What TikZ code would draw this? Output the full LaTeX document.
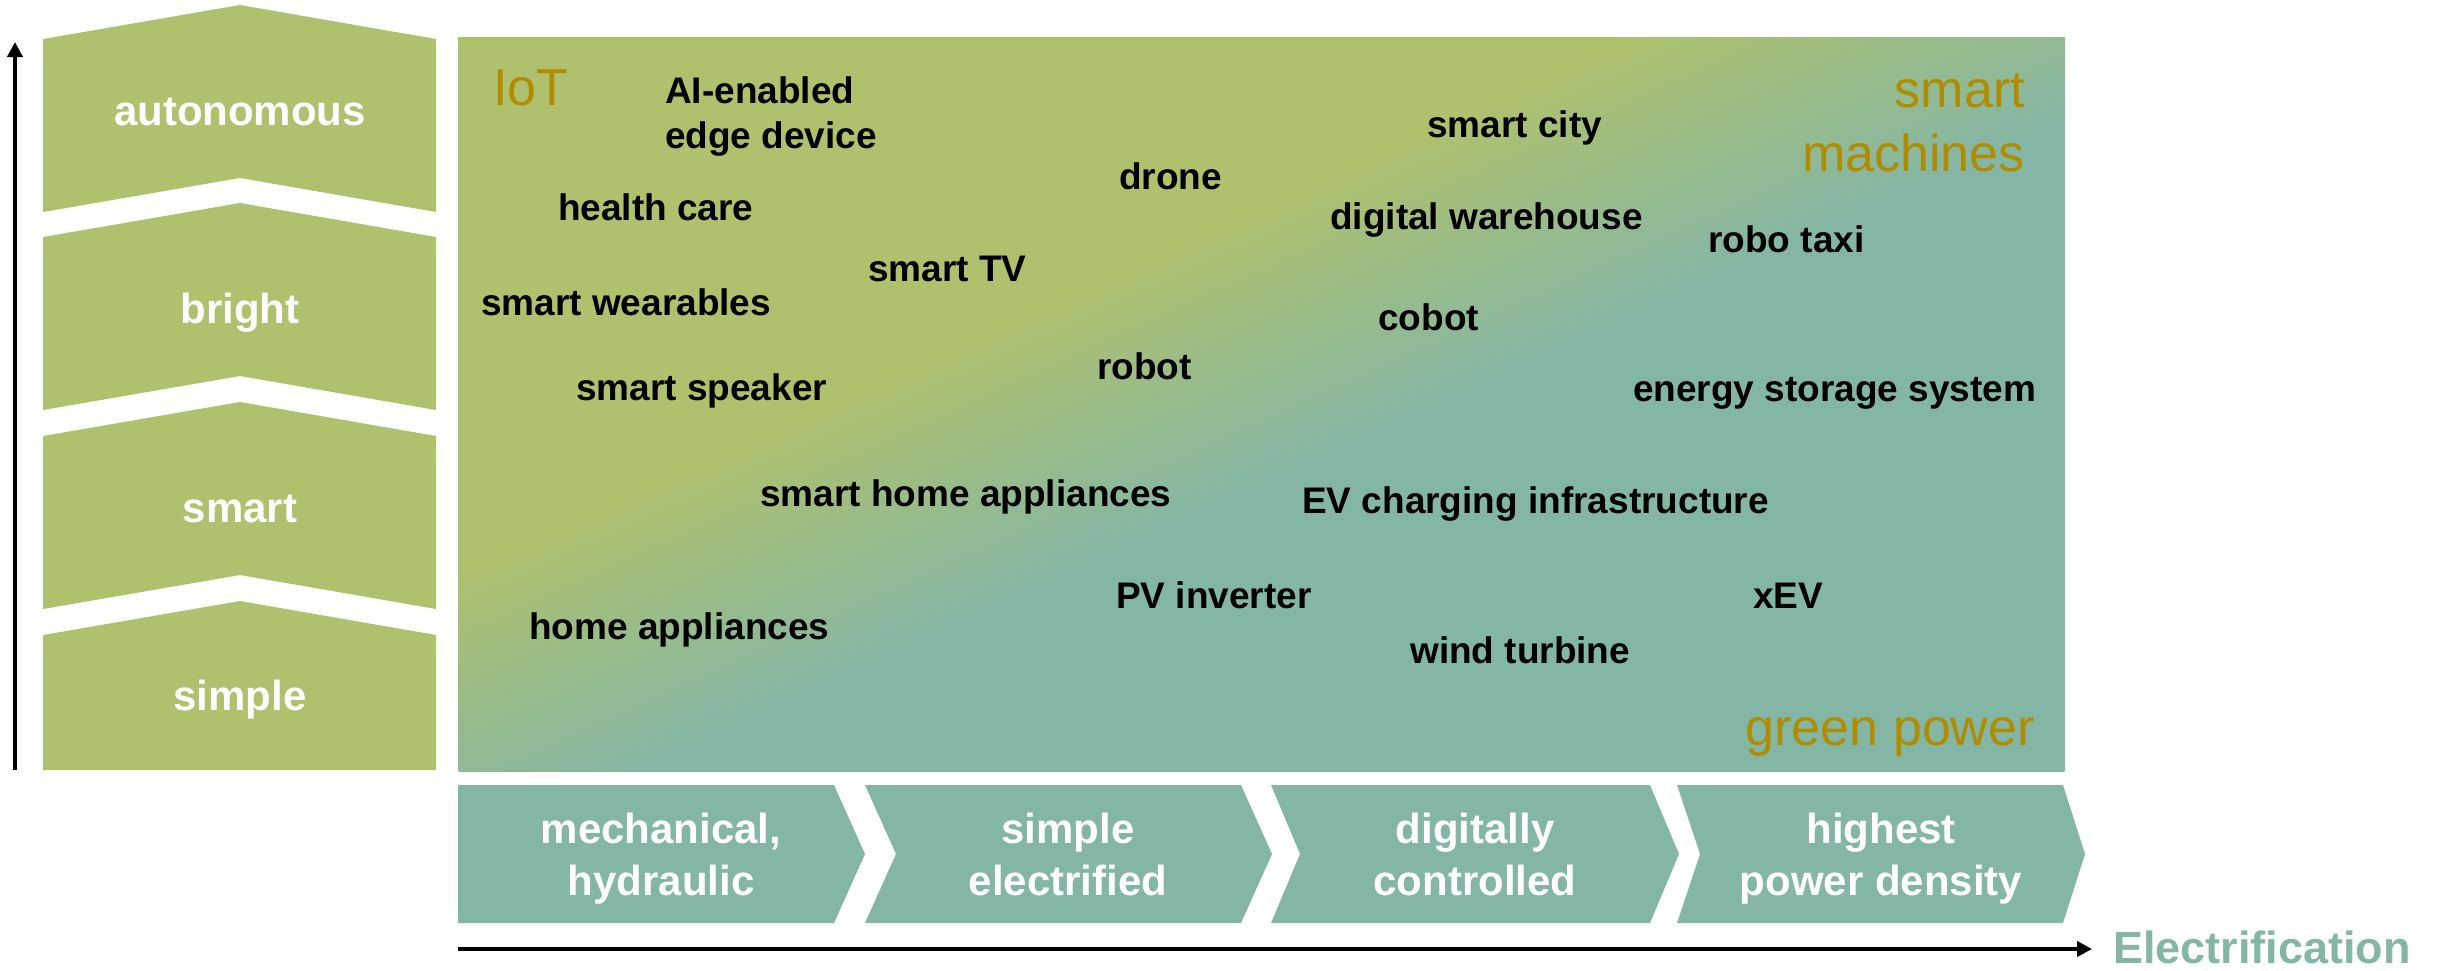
\documentclass[tikz,border=0pt]{standalone}
\usepackage{fontspec}
\setmainfont{Liberation Sans}
\usetikzlibrary{arrows.meta}
\definecolor{leafgreen}{RGB}{175,193,108}
\definecolor{tealgrey}{RGB}{132,182,166}
\definecolor{ochre}{RGB}{176,140,0}
\pgfdeclarehorizontalshading{greentoteal}{100bp}{color(0bp)=(leafgreen); color(43bp)=(leafgreen); color(53bp)=(tealgrey); color(100bp)=(tealgrey)}
\tikzset{
  appl/.style={font=\fontsize{37}{43}\selectfont\bfseries, anchor=base west},
  realm/.style={font=\fontsize{52}{64}\selectfont, text=ochre},
  tier/.style={font=\fontsize{42}{50}\selectfont\bfseries, text=white, anchor=base},
  phase/.style={font=\fontsize{42}{52}\selectfont\bfseries, text=white, align=center},
}

\begin{document}
\begin{tikzpicture}[every node/.style={inner sep=0pt}, >={Triangle[length=15pt,width=15pt]}, x=1pt, y=-1pt]
	\useasboundingbox (0,0) rectangle (2447,970);
	% map area, green fading into teal along the diagonal
	\begin{scope}
		\clip (458,37) rectangle (2065,771);
		\begin{scope}[overlay, transform canvas={cm={16.07,-7.34,-16.07,-7.34,(1261.5pt,330pt)}}]
			\shade[shading=greentoteal] (0pt,0pt) rectangle (100pt,100pt);
		\end{scope}
	\end{scope}
	\node[realm, anchor=base west] (iot) at (493,105) {IoT};
	\node[realm, anchor=east, align=right] (smach) at (2025,123) {smart\\machines};
	\node[realm, anchor=base east] (gpower) at (2035,745) {green power};
	\node[appl, anchor=west, align=left, font=\fontsize{37}{45}\selectfont\bfseries] (aiedge) at (665,117) {AI-enabled\\edge device};
	\node[appl] (drone) at (1119,189) {drone};
	\node[appl] (health) at (558,220) {health care};
	\node[appl] (tv) at (868,281) {smart TV};
	\node[appl] (wear) at (481,315) {smart wearables};
	\node[appl] (robot) at (1097,379) {robot};
	\node[appl] (speaker) at (576,400) {smart speaker};
	\node[appl] (city) at (1427,137) {smart city};
	\node[appl] (warehouse) at (1330,229) {digital warehouse};
	\node[appl] (taxi) at (1708,252) {robo taxi};
	\node[appl] (cobot) at (1378,330) {cobot};
	\node[appl] (ess) at (1633,401) {energy storage system};
	\node[appl] (smarthome) at (760,506) {smart home appliances};
	\node[appl] (evcharge) at (1302,513) {EV charging infrastructure};
	\node[appl] (pv) at (1116,608) {PV inverter};
	\node[appl] (xev) at (1753,608) {xEV};
	\node[appl] (home) at (529,639) {home appliances};
	\node[appl] (wind) at (1410,663) {wind turbine};
	% intelligence levels
	\foreach \y/\lbl in {39/autonomous, 237/bright, 436/smart} {
		\fill[leafgreen] (43,\y) -- (240,\y-34) -- (436,\y) -- (436,\y+173) -- (240,\y+139) -- (43,\y+173) -- cycle;
		\node[tier] (tier-\lbl) at (240,\y+86) {\lbl};
	}
	\fill[leafgreen] (43,635) -- (240,601) -- (436,635) -- (436,770) -- (43,770) -- cycle;
	\node[tier] (tier-simple) at (240,710) {simple};
	% electrification stages
	\fill[tealgrey] (458,785) -- (834,785) -- (865,854) -- (834,923) -- (458,923) -- cycle;
	\fill[tealgrey] (865,785) -- (1241,785) -- (1272,854) -- (1241,923) -- (865,923) -- (896,854) -- cycle;
	\fill[tealgrey] (1271,785) -- (1650,785) -- (1679,854) -- (1650,923) -- (1271,923) -- (1300,854) -- cycle;
	\fill[tealgrey] (1677,785) -- (2063,785) -- (2085,854) -- (2063,923) -- (1677,923) -- (1700,854) -- cycle;
	\node[phase] (mech) at (661,859) {\strut mechanical,\\\strut hydraulic};
	\node[phase] (selec) at (1068,859) {\strut simple\\\strut electrified};
	\node[phase] (digi) at (1475,859) {\strut digitally\\\strut controlled};
	\node[phase] (dense) at (1881,859) {\strut highest\\\strut power density};
	% axes
	\coordinate (vbase) at (15,770);
	\coordinate (vtip) at (15,42);
	\coordinate (hbase) at (458,949);
	\coordinate (htip) at (2092,949);
	\draw[->, line width=4pt] (vbase) -- (vtip);
	\draw[->, line width=4pt] (hbase) -- (htip);
	\node[font=\fontsize{45}{54}\selectfont\bfseries, text=tealgrey, anchor=base west] (elec) at (2113,963) {Electrification};
\end{tikzpicture}
\end{document}
